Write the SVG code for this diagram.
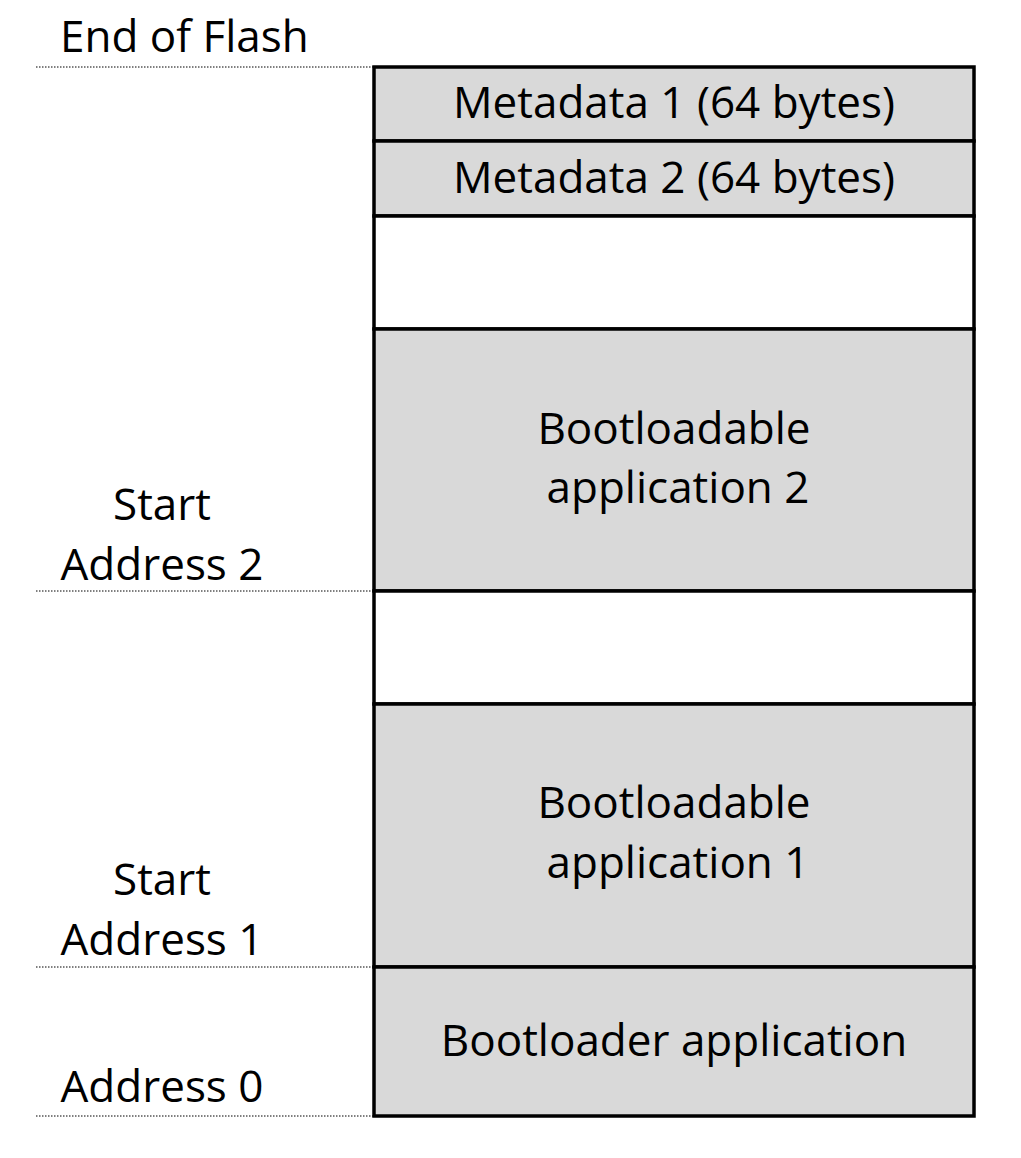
<svg xmlns="http://www.w3.org/2000/svg" width="1021" height="1158" viewBox="0 0 1021 1158">
<style>
text{font-family:"Open Sans",Lato,sans-serif;font-size:44px;fill:#000}
.c{text-anchor:middle}
.blk{stroke:#000;stroke-width:3.5}
.g{fill:#d9d9d9}
.w{fill:#fff}
.dot{stroke:#000;stroke-width:1;stroke-dasharray:1.5 1.5;fill:none}
</style>
<rect width="1021" height="1158" fill="#fff"/>
<g id="guides">
<line class="dot" x1="36" y1="67" x2="374" y2="67"/>
<line class="dot" x1="36" y1="591" x2="374" y2="591"/>
<line class="dot" x1="36" y1="967" x2="374" y2="967"/>
<line class="dot" x1="36" y1="1116" x2="374" y2="1116"/>
</g>
<g id="labels">
<text x="60" y="52">End of Flash</text>
<text class="c" x="162" y="520">Start</text>
<text class="c" x="162" y="580">Address 2</text>
<text class="c" x="162" y="895">Start</text>
<text class="c" x="162" y="955">Address 1</text>
<text class="c" x="162" y="1102">Address 0</text>
</g>
<g id="meta1"><rect class="blk g" x="374" y="67" width="600" height="74"/><text class="c" x="674" y="118">Metadata 1 (64 bytes)</text></g>
<g id="meta2"><rect class="blk g" x="374" y="141" width="600" height="75"/><text class="c" x="674" y="193">Metadata 2 (64 bytes)</text></g>
<g id="free2"><rect class="blk w" x="374" y="216" width="600" height="113"/></g>
<g id="app2"><rect class="blk g" x="374" y="329" width="600" height="262"/><text class="c" x="674" y="444">Bootloadable</text><text class="c" x="678" y="503">application 2</text></g>
<g id="free1"><rect class="blk w" x="374" y="591" width="600" height="113"/></g>
<g id="app1"><rect class="blk g" x="374" y="704" width="600" height="263"/><text class="c" x="674" y="818">Bootloadable</text><text class="c" x="678" y="878">application 1</text></g>
<g id="boot"><rect class="blk g" x="374" y="967" width="600" height="149"/><text class="c" x="674" y="1056">Bootloader application</text></g>
</svg>
